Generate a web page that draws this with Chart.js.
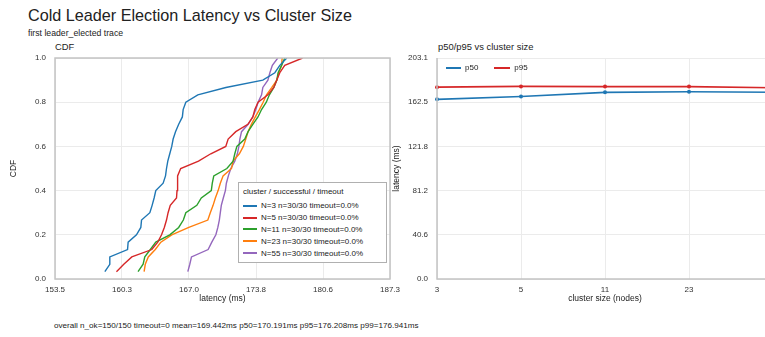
<!DOCTYPE html>
<html>
<head>
<meta charset="utf-8">
<script src="https://cdn.jsdelivr.net/npm/chart.js@4"></script>
<style>
  html, body { margin: 0; padding: 0; background: #fff; overflow: hidden; }
  body { width: 765px; height: 337px; position: relative; font-family: "Liberation Sans", Arial, sans-serif; color: #222; }
  .txt { position: absolute; white-space: nowrap; }
  canvas { position: absolute; }
  .legend { position: absolute; font-size: 8px; color: #222; }
  .legend .row { display: flex; align-items: center; height: 11.8px; }
  .legend .swatch { display: inline-block; width: 14px; height: 2px; margin-right: 4px; }
</style>
</head>
<body>
<div class="txt" style="left:28px; top:6px; font-size:16.2px;">Cold Leader Election Latency vs Cluster Size</div>
<div class="txt" style="left:28px; top:28px; font-size:8.7px;">first leader_elected trace</div>
<div class="txt" style="left:55px; top:41px; font-size:9.4px;">CDF</div>
<div class="txt" style="left:438px; top:41px; font-size:9.4px;">p50/p95 vs cluster size</div>

<canvas id="cdfChart" width="410" height="260" style="left:0; top:50px;"></canvas>
<canvas id="pctChart" width="400" height="260" style="left:390px; top:50px;"></canvas>

<div class="legend" id="cdfLegend" style="left:238px; top:182px; width:147px; height:79px; border:1px solid #b0b0b0; background:#fff; padding:0; box-sizing:content-box;"></div>
<div class="legend" id="pctLegend" style="left:446px; top:62px;"></div>

<div class="txt" style="left:54px; top:321px; font-size:8.1px;">overall n_ok=150/150 timeout=0 mean=169.442ms p50=170.191ms p95=176.208ms p99=176.941ms</div>

<script>
// sorted latencies (ms) per cluster size, 30 successful elections each
const n3Lat = [158.55, 159.05, 159.05, 160.84, 160.9, 161.74, 162.18, 162.25, 163.09, 163.32,
               163.52, 163.69, 164.43, 164.67, 164.77, 164.9, 165.1, 165.3, 165.44, 165.68,
               166.0, 166.37, 166.45, 166.72, 167.93, 170.76, 174.49, 175.7, 176.2, 176.91];
const n5Lat = [159.72, 160.46, 161.27, 163.29, 163.89, 164.27, 164.55, 164.77, 164.93, 165.15,
               165.78, 165.83, 165.88, 165.9, 166.2, 168.0, 169.24, 170.75, 170.99, 171.76,
               172.98, 173.48, 173.68, 174.01, 175.0, 175.6, 175.9, 176.2, 176.7, 178.5];
const n11Lat = [161.9, 162.41, 162.58, 163.14, 163.69, 165.1, 166.0, 166.47, 166.72, 167.83,
                168.28, 169.29, 169.39, 169.54, 170.86, 171.49, 171.66, 171.87, 172.67, 173.0,
                173.48, 174.0, 174.36, 174.84, 175.15, 175.6, 175.9, 176.03, 176.38, 176.71];
const n23Lat = [162.51, 162.63, 162.93, 163.64, 164.2, 165.3, 167.02, 168.94, 169.19, 169.47,
                169.7, 169.98, 170.2, 170.48, 171.33, 171.49, 172.12, 172.52, 172.77, 173.0,
                173.33, 173.73, 174.14, 174.52, 174.86, 175.4, 175.9, 176.1, 176.38, 176.44];
const n55Lat = [166.92, 167.12, 167.29, 168.97, 169.34, 169.75, 169.95, 170.1, 170.2, 170.3,
                170.5, 170.71, 170.81, 171.01, 171.26, 171.66, 171.92, 172.07, 172.17, 172.34,
                173.01, 173.48, 173.78, 174.01, 174.36, 174.49, 175.0, 175.2, 175.45, 176.0];

const cdfLabels = ["N=3 n=30/30 timeout=0.0%", "N=5 n=30/30 timeout=0.0%", "N=11 n=30/30 timeout=0.0%",
                   "N=23 n=30/30 timeout=0.0%", "N=55 n=30/30 timeout=0.0%"];
const cdfColors = ["#1f77b4", "#d62728", "#2ca02c", "#ff7f0e", "#9467bd"];

const clusterSizes = ["3", "5", "11", "23", "55"];
const p50Lat = [165.1, 167.7, 171.5, 172.0, 171.6];
const p95Lat = [176.3, 177.0, 176.8, 176.8, 175.7];

const cdfXTicks = [153.52, 160.28, 167.04, 173.80, 180.56, 187.32];
const cdfYTicks = [0, 0.2, 0.4, 0.6, 0.8, 1.0];
const latYTicks = [0, 40.62, 81.23, 121.85, 162.46, 203.08];

const FONT = "'Liberation Sans', Arial, sans-serif";
const tickFont = { family: FONT, size: 8 };
const titleFont = { family: FONT, size: 8.5 };
const gridColor = "#ebebeb";
const frameColor = "#c4c4c4";

// axes frame like the reference (all sides on the CDF, left+bottom on the right panel)
const framePlugin = {
    id: "frame",
    afterDatasetsDraw(chart, args, opts) {
        const { left, top, right, bottom } = chart.chartArea;
        const ctx = chart.ctx;
        ctx.save();
        ctx.strokeStyle = frameColor;
        ctx.lineWidth = 1.5;
        ctx.beginPath();
        if (opts.all) {
            ctx.rect(left, top, right - left, bottom - top);
        } else {
            ctx.moveTo(left, top);
            ctx.lineTo(left, bottom);
            ctx.lineTo(right, bottom);
        }
        ctx.stroke();
        ctx.restore();
    },
};

// keep the y axis from pushing the plot area down
function fixY(width) {
    return (scale) => {
        scale.width = width;
        scale.paddingTop = 0;
        scale.paddingBottom = 0;
    };
}

let cdfSets = [n3Lat, n5Lat, n11Lat, n23Lat, n55Lat].map((vals, k) => ({
    label: cdfLabels[k],
    data: vals.map((v, i) => ({ x: v, y: (i + 1) / vals.length })),
    borderColor: cdfColors[k],
    backgroundColor: cdfColors[k],
    borderWidth: 1.4,
    pointRadius: 0,
    showLine: true,
    fill: false,
    tension: 0,
}));

let cdfChart = new Chart(document.getElementById("cdfChart"), {
    type: "scatter",
    data: { datasets: cdfSets },
    options: {
        responsive: false,
        animation: false,
        devicePixelRatio: 1,
        layout: { autoPadding: false, padding: { top: 8, right: 20, left: 0, bottom: 6 } },
        plugins: { legend: { display: false }, tooltip: { enabled: false }, frame: { all: true } },
        scales: {
            x: {
                type: "linear",
                min: cdfXTicks[0],
                max: cdfXTicks[cdfXTicks.length - 1],
                afterBuildTicks: (axis) => { axis.ticks = cdfXTicks.map((v) => ({ value: v })); },
                afterFit: (scale) => { scale.height = 25; },
                ticks: { font: tickFont, color: "#333", padding: 6, maxRotation: 0, callback: (v) => Number(v).toFixed(1) },
                grid: { color: gridColor, drawTicks: false },
                border: { display: false },
                title: { display: true, text: "latency (ms)", font: titleFont, color: "#222", padding: { top: 0, bottom: 0 } },
            },
            y: {
                min: 0,
                max: 1,
                afterBuildTicks: (axis) => { axis.ticks = cdfYTicks.map((v) => ({ value: v })); },
                afterFit: fixY(55),
                ticks: { font: tickFont, color: "#333", padding: 9, callback: (v) => Number(v).toFixed(1) },
                grid: { color: gridColor, drawTicks: false },
                border: { display: false },
                title: { display: true, text: "CDF", font: titleFont, color: "#222", padding: { top: 9, bottom: 0 } },
            },
        },
    },
    plugins: [framePlugin],
});

let pctChart = new Chart(document.getElementById("pctChart"), {
    type: "line",
    data: {
        labels: clusterSizes,
        datasets: [
            {
                label: "p50",
                data: p50Lat,
                borderColor: "#1f77b4",
                backgroundColor: "#1f77b4",
                borderWidth: 1.6,
                pointRadius: 2,
                pointBorderWidth: 0,
                tension: 0,
            },
            {
                label: "p95",
                data: p95Lat,
                borderColor: "#d62728",
                backgroundColor: "#d62728",
                borderWidth: 1.6,
                pointRadius: 2,
                pointBorderWidth: 0,
                tension: 0,
            },
        ],
    },
    options: {
        responsive: false,
        animation: false,
        devicePixelRatio: 1,
        layout: { autoPadding: false, padding: { top: 8, right: 17, left: 0, bottom: 6 } },
        plugins: { legend: { display: false }, tooltip: { enabled: false }, frame: { all: false } },
        scales: {
            x: {
                offset: false,
                afterFit: (scale) => { scale.height = 25; },
                ticks: { font: tickFont, color: "#333", padding: 6, maxRotation: 0, autoSkip: false },
                grid: { color: gridColor, drawTicks: false, offset: false },
                border: { display: false },
                title: { display: true, text: "cluster size (nodes)", font: titleFont, color: "#222", padding: { top: 0, bottom: 0 } },
            },
            y: {
                min: 0,
                max: latYTicks[latYTicks.length - 1],
                afterBuildTicks: (axis) => { axis.ticks = latYTicks.map((v) => ({ value: v })); },
                afterFit: fixY(47),
                ticks: { font: tickFont, color: "#333", padding: 9, callback: (v) => Number(v).toFixed(1) },
                grid: { color: gridColor, drawTicks: false },
                border: { display: false },
                title: { display: true, text: "latency (ms)", font: titleFont, color: "#222", padding: { top: 2, bottom: 0 } },
            },
        },
    },
    plugins: [framePlugin],
});

// legends
let cdfLegend = document.getElementById("cdfLegend");
let html = '<div style="margin:4px 0 2px 4px; height:11px;">cluster / successful / timeout</div>';
cdfLabels.forEach((lab, k) => {
    html += '<div class="row" style="padding-left:4px;"><span class="swatch" style="background:' + cdfColors[k] + '"></span>' + lab + "</div>";
});
cdfLegend.innerHTML = html;

let pctLegend = document.getElementById("pctLegend");
pctLegend.innerHTML =
    '<div class="row"><span class="swatch" style="width:15px;background:#1f77b4"></span>p50' +
    '<span class="swatch" style="width:16px;margin-left:16px;background:#d62728"></span>p95</div>';
</script>
</body>
</html>
